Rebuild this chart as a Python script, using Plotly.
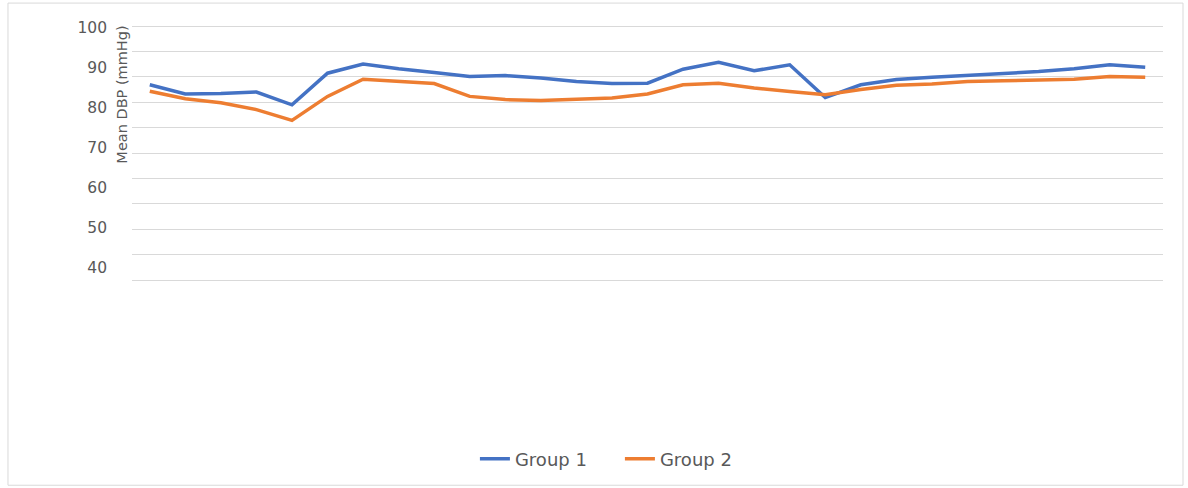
import plotly.graph_objects as go

timepoints = list(range(1, 30))
group1 = [85.8, 83.5, 83.6, 84.0, 80.8, 88.7, 91.0, 89.8, 88.9, 87.9, 88.1, 87.5, 86.6, 86.1, 86.2,
          89.7, 91.4, 89.3, 90.8, 82.6, 85.8, 87.1, 87.7, 88.1, 88.5, 89.1, 89.8, 90.8, 90.2]
group2 = [84.2, 82.3, 81.3, 79.6, 76.9, 82.9, 87.2, 86.7, 86.1, 82.9, 82.1, 81.9, 82.3, 82.5, 83.5,
          85.8, 86.2, 85.0, 84.1, 83.3, 84.6, 85.7, 86.0, 86.6, 86.8, 86.9, 87.2, 87.9, 87.7]
y_ticks = [40, 50, 60, 70, 80, 90, 100]
grid_ticks = [0, 10, 20, 30, 40, 50, 60, 70, 80, 90, 100]

TXT = "#595959"
GRID = "#d9d9d9"
FONT = "DejaVu Sans"

fig = go.Figure()
# invisible trace so the gridline axis is rendered
fig.add_trace(go.Scatter(x=[None], y=[None], yaxis="y2", showlegend=False, hoverinfo="skip"))
fig.add_trace(go.Scatter(x=timepoints, y=group1, name="Group 1", mode="lines",
                         line=dict(color="#4472C4", width=3.5)))
fig.add_trace(go.Scatter(x=timepoints, y=group2, name="Group 2", mode="lines",
                         line=dict(color="#ED7D31", width=3.5)))

fig.update_layout(
    width=1188, height=488,
    margin=dict(l=132, r=25, t=23, b=204),
    paper_bgcolor="white", plot_bgcolor="white",
    font=dict(family=FONT, color=TXT, size=15),
    xaxis=dict(range=[0.5, 29.5], showticklabels=False, showgrid=False, zeroline=False,
               showline=False, ticks=""),
    yaxis=dict(range=[36.266, 101.245], tickvals=y_ticks,
               showgrid=False, zeroline=False, showline=False, ticks="",
               ticklabelstandoff=24, tickfont=dict(size=15.5, color=TXT, family=FONT)),
    yaxis2=dict(overlaying="y", side="left", range=[-1.18, 101.18], tickvals=grid_ticks,
                showgrid=True, gridcolor=GRID, gridwidth=1,
                showticklabels=False, zeroline=False, showline=False, ticks=""),
    showlegend=True,
    legend=dict(orientation="h", x=0.3326, xanchor="left", y=-0.6705, yanchor="middle",
                entrywidth=100, entrywidthmode="pixels",
                font=dict(size=18, color=TXT, family=FONT), bgcolor="rgba(0,0,0,0)"),
    annotations=[dict(text="Mean DBP (mmHg)", textangle=-90, xref="paper", yref="paper",
                      x=-0.0098, y=0.7241, xanchor="center", yanchor="middle", showarrow=False,
                      font=dict(size=14.5, color=TXT, family=FONT))],
    shapes=[dict(type="rect", xref="paper", yref="paper", x0=-0.1203, x1=1.0194,
                 y0=-0.7778, y1=1.0766, line=dict(color=GRID, width=1), layer="below")],
)

fig.write_html("out.html")
